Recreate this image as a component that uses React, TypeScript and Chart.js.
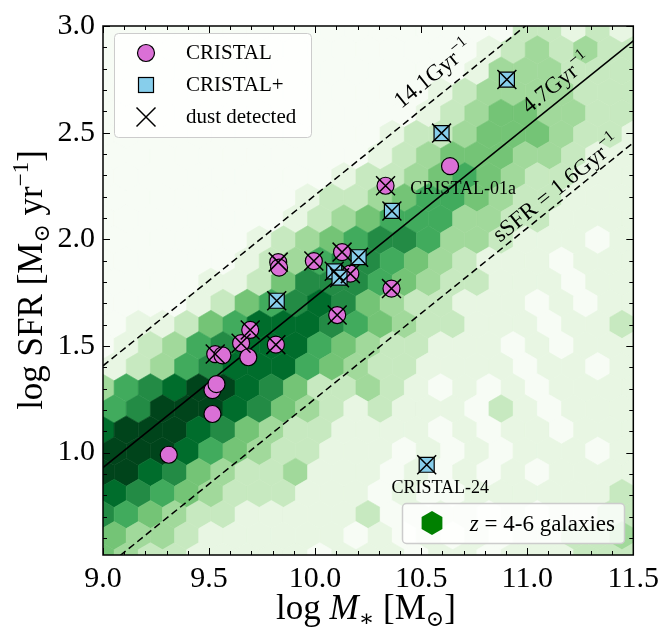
import React, { useEffect, useRef } from "react";
import { Chart, registerables } from "chart.js";
Chart.register(...registerables);

// ---------- axes ----------
const X_MIN = 9.0;
const X_MAX = 11.5;
const Y_MIN = 0.52;
const Y_MAX = 3.0;
const X_TICKS = [9.0, 9.5, 10.0, 10.5, 11.0, 11.5];
const Y_TICKS = [1.0, 1.5, 2.0, 2.5, 3.0];
const MINOR_STEP = 0.1;

// ---------- data ----------
const cristalMass = [9.31, 9.516, 9.516, 9.535, 9.529, 9.563, 9.651, 9.685, 9.694, 9.815, 10.104, 9.826, 9.83, 9.994, 10.127, 10.166, 10.36, 10.332, 10.636];
const cristalSFR = [0.99, 1.181, 1.293, 1.321, 1.462, 1.456, 1.513, 1.447, 1.575, 1.506, 1.645, 1.893, 1.867, 1.898, 1.94, 1.839, 1.769, 2.251, 2.343];
const cristalPlusMass = [9.819, 10.09, 10.115, 10.205, 10.362, 10.596, 10.904, 10.526];
const cristalPlusSFR = [1.712, 1.85, 1.82, 1.916, 2.133, 2.498, 2.749, 0.943];
const dustMass = [9.529, 9.651, 9.694, 9.815, 10.104, 9.826, 9.994, 10.127, 10.166, 10.36, 10.332, 9.819, 10.09, 10.115, 10.205, 10.362, 10.596, 10.904, 10.526];
const dustSFR = [1.462, 1.513, 1.575, 1.506, 1.645, 1.893, 1.898, 1.94, 1.839, 1.769, 2.251, 1.712, 1.85, 1.82, 1.916, 2.133, 2.498, 2.749, 0.943];

// main-sequence relation and sSFR offsets (log 3)
const MS_PIVOT = 9.0;
const MS_AT_PIVOT = 0.93;
const MS_SLOPE = 0.8;
const SSFR_OFFSET = 0.477;
const LINE_MASS = [9.0, 11.5];

// hexbin background (z = 4-6 galaxies): colour level per hexagon, rows top -> bottom
const HEX_TOP_Y = 2.987;
const HEX_ROW_STEP = 0.099;
const HEX_DX = 0.114;
const HEX_X_EVEN = 9.0525;
const HEX_X_ODD = 8.9955;
const HEX_LEVELS = [
  "0000000000000000022121",
  "00000000000000001232322",
  "0000000000000001333222",
  "00000000000000123333222",
  "0000000000000123443322",
  "00000000000012234443221",
  "0000000000012344433211",
  "00000000001223454322111",
  "0000000012234554322111",
  "00000000123455533221111",
  "0000001234566533211101",
  "00000012356654321110111",
  "0000112466654322111011",
  "00001245676432211101011",
  "0112457776543221110112",
  "01235677754322111010111",
  "1235677754322111101101",
  "35678876422321010101111",
  "5688876432121110210111",
  "78887643221111010110111",
  "8887543221110101011101",
  "88764322311101010101111",
  "7654322211101001111112",
  "65432211111201110101122",
  "4332111111010101011223",
  "43221111101110110111222",
];
const GREENS = ["#f7fcf5", "#e8f6e3", "#c7e9c0", "#a1d99b", "#74c476", "#41ab5d", "#238b45", "#006d2c", "#00441b"];

const FONT = '"Liberation Serif", "DejaVu Serif", serif';
const PINK = "#da70d6";
const SKY = "#87ceeb";

type Seg = { t: string; size: number; italic?: boolean; dy?: number };

function fontOf(s: Seg) {
  return `${s.italic ? "italic " : ""}${s.size}px ${FONT}`;
}

function drawRich(ctx: CanvasRenderingContext2D, segs: Seg[], x: number, y: number, align: "left" | "center" | "right") {
  let total = 0;
  const widths = segs.map((s) => {
    ctx.font = fontOf(s);
    const w = ctx.measureText(s.t).width;
    total += w;
    return w;
  });
  let cx = align === "left" ? x : align === "center" ? x - total / 2 : x - total;
  ctx.textAlign = "left";
  ctx.textBaseline = "alphabetic";
  segs.forEach((s, i) => {
    ctx.font = fontOf(s);
    ctx.fillText(s.t, cx, y + (s.dy || 0));
    cx += widths[i];
  });
}

const msLine = (m: number, off: number) => MS_AT_PIVOT + off + MS_SLOPE * (m - MS_PIVOT);

const lineLabels = [
  { segs: [{ t: "14.1Gyr", size: 23 }, { t: "−1", size: 16, dy: -10 }], x: 10.553, y: 2.777 },
  { segs: [{ t: "4.7Gyr", size: 23 }, { t: "−1", size: 16, dy: -10 }], x: 11.134, y: 2.735 },
  { segs: [{ t: "sSFR = 1.6Gyr", size: 23 }, { t: "−1", size: 16, dy: -10 }], x: 11.134, y: 2.242 },
];
const pointLabels = [
  { text: "CRISTAL-01a", x: 10.449, y: 2.233, align: "left" as const },
  { text: "CRISTAL-24", x: 10.59, y: 0.833, align: "center" as const },
];

const hexPlugin = {
  id: "hexbin",
  beforeDatasetsDraw(chart: any) {
    const ctx: CanvasRenderingContext2D = chart.ctx;
    const xs = chart.scales.x;
    const ys = chart.scales.y;
    const { left, right, top, bottom } = chart.chartArea;
    ctx.save();
    ctx.beginPath();
    ctx.rect(left, top, right - left, bottom - top);
    ctx.clip();
    ctx.fillStyle = GREENS[0];
    ctx.fillRect(left, top, right - left, bottom - top);
    const hx = HEX_DX / 2;
    const hy1 = (HEX_ROW_STEP * 2) / 6;
    const hy2 = (HEX_ROW_STEP * 2) / 3;
    HEX_LEVELS.forEach((row, r) => {
      const cy = HEX_TOP_Y - r * HEX_ROW_STEP;
      const x0 = r % 2 === 0 ? HEX_X_EVEN : HEX_X_ODD;
      for (let i = 0; i < row.length; i++) {
        const lvl = Number(row[i]);
        const cx = x0 + i * HEX_DX;
        const pts = [
          [cx + hx, cy - hy1],
          [cx + hx, cy + hy1],
          [cx, cy + hy2],
          [cx - hx, cy + hy1],
          [cx - hx, cy - hy1],
          [cx, cy - hy2],
        ];
        ctx.beginPath();
        pts.forEach(([px, py], k) => {
          const X = xs.getPixelForValue(px);
          const Y = ys.getPixelForValue(py);
          if (k === 0) ctx.moveTo(X, Y);
          else ctx.lineTo(X, Y);
        });
        ctx.closePath();
        ctx.fillStyle = GREENS[lvl];
        ctx.strokeStyle = GREENS[lvl];
        ctx.lineWidth = 0.6;
        ctx.fill();
        ctx.stroke();
      }
    });
    ctx.restore();
  },
};

function drawCircle(ctx: CanvasRenderingContext2D, x: number, y: number) {
  ctx.beginPath();
  ctx.arc(x, y, 8.5, 0, Math.PI * 2);
  ctx.fillStyle = PINK;
  ctx.fill();
  ctx.lineWidth = 1.2;
  ctx.strokeStyle = "#000";
  ctx.stroke();
}
function drawSquare(ctx: CanvasRenderingContext2D, x: number, y: number) {
  ctx.fillStyle = SKY;
  ctx.fillRect(x - 7.5, y - 7.5, 15, 15);
  ctx.lineWidth = 1.2;
  ctx.strokeStyle = "#000";
  ctx.strokeRect(x - 7.5, y - 7.5, 15, 15);
}
function drawX(ctx: CanvasRenderingContext2D, x: number, y: number) {
  ctx.beginPath();
  ctx.moveTo(x - 9.5, y - 9.5);
  ctx.lineTo(x + 9.5, y + 9.5);
  ctx.moveTo(x + 9.5, y - 9.5);
  ctx.lineTo(x - 9.5, y + 9.5);
  ctx.lineWidth = 1.5;
  ctx.strokeStyle = "#000";
  ctx.stroke();
}

const overlayPlugin = {
  id: "overlay",
  afterDraw(chart: any) {
    const ctx: CanvasRenderingContext2D = chart.ctx;
    const xs = chart.scales.x;
    const ys = chart.scales.y;
    const { left, right, top, bottom } = chart.chartArea;
    ctx.save();
    ctx.fillStyle = "#000";

    // rotated line labels
    const p1x = xs.getPixelForValue(LINE_MASS[0]);
    const p1y = ys.getPixelForValue(msLine(LINE_MASS[0], 0));
    const p2x = xs.getPixelForValue(LINE_MASS[1]);
    const p2y = ys.getPixelForValue(msLine(LINE_MASS[1], 0));
    const ang = Math.atan2(p2y - p1y, p2x - p1x);
    lineLabels.forEach((l) => {
      ctx.save();
      ctx.translate(xs.getPixelForValue(l.x), ys.getPixelForValue(l.y));
      ctx.rotate(ang);
      ctx.fillStyle = "#000";
      drawRich(ctx, l.segs, 0, 8, "center");
      ctx.restore();
    });

    // point labels
    pointLabels.forEach((p) => {
      ctx.font = `18px ${FONT}`;
      ctx.fillStyle = "#000";
      ctx.textAlign = p.align;
      ctx.textBaseline = "middle";
      ctx.fillText(p.text, xs.getPixelForValue(p.x), ys.getPixelForValue(p.y));
    });

    // frame
    ctx.strokeStyle = "#000";
    ctx.lineWidth = 1.5;
    ctx.strokeRect(left, top, right - left, bottom - top);

    // inward ticks
    ctx.lineWidth = 1;
    const isMajor = (v: number, arr: number[]) => arr.some((t) => Math.abs(t - v) < 1e-6);
    for (let k = 0; X_MIN + k * MINOR_STEP <= X_MAX + 1e-9; k++) {
      const v = X_MIN + k * MINOR_STEP;
      const len = isMajor(v, X_TICKS) ? 7 : 4;
      const px = Math.round(xs.getPixelForValue(v)) + 0.5;
      ctx.beginPath();
      ctx.moveTo(px, bottom);
      ctx.lineTo(px, bottom - len);
      ctx.moveTo(px, top);
      ctx.lineTo(px, top + len);
      ctx.stroke();
    }
    const y0 = Math.ceil(Y_MIN / MINOR_STEP - 1e-9) * MINOR_STEP;
    for (let k = 0; y0 + k * MINOR_STEP <= Y_MAX + 1e-9; k++) {
      const v = y0 + k * MINOR_STEP;
      const len = isMajor(v, Y_TICKS) ? 7 : 4;
      const py = Math.round(ys.getPixelForValue(v)) + 0.5;
      ctx.beginPath();
      ctx.moveTo(left, py);
      ctx.lineTo(left + len, py);
      ctx.moveTo(right, py);
      ctx.lineTo(right - len, py);
      ctx.stroke();
    }

    // axis titles
    ctx.fillStyle = "#000";
    drawRich(
      ctx,
      [
        { t: "log ", size: 35 },
        { t: "M", size: 35, italic: true },
        { t: "∗", size: 23, dy: 7 },
        { t: " [M", size: 35 },
        { t: "⊙", size: 22, dy: 7 },
        { t: "]", size: 35 },
      ],
      366,
      619,
      "center"
    );
    ctx.save();
    ctx.translate(42, 280);
    ctx.rotate(-Math.PI / 2);
    drawRich(
      ctx,
      [
        { t: "log SFR [M", size: 35 },
        { t: "⊙", size: 22, dy: 7 },
        { t: " yr", size: 35 },
        { t: "−1", size: 23, dy: -14 },
        { t: "]", size: 35 },
      ],
      0,
      0,
      "center"
    );
    ctx.restore();

    // legend 1
    ctx.beginPath();
    (ctx as any).roundRect(114.5, 33.5, 197, 104, 4);
    ctx.fillStyle = "rgba(255,255,255,0.8)";
    ctx.fill();
    ctx.strokeStyle = "#cccccc";
    ctx.lineWidth = 1;
    ctx.stroke();
    drawCircle(ctx, 146, 53);
    drawSquare(ctx, 146, 85);
    drawX(ctx, 146, 117);
    ctx.fillStyle = "#000";
    ctx.font = `21px ${FONT}`;
    ctx.textAlign = "left";
    ctx.textBaseline = "middle";
    ctx.fillText("CRISTAL", 186, 53);
    ctx.fillText("CRISTAL+", 186, 85);
    ctx.fillText("dust detected", 186, 117);

    // legend 2
    ctx.beginPath();
    (ctx as any).roundRect(402.5, 503.5, 222, 40, 4);
    ctx.fillStyle = "rgba(255,255,255,0.8)";
    ctx.fill();
    ctx.strokeStyle = "#cccccc";
    ctx.stroke();
    ctx.beginPath();
    for (let k = 0; k < 6; k++) {
      const a = Math.PI / 2 + (k * Math.PI) / 3;
      const hxp = 432 + 12 * Math.cos(a);
      const hyp = 523 + 12 * Math.sin(a);
      if (k === 0) ctx.moveTo(hxp, hyp);
      else ctx.lineTo(hxp, hyp);
    }
    ctx.closePath();
    ctx.fillStyle = "#008000";
    ctx.fill();
    ctx.fillStyle = "#000";
    drawRich(
      ctx,
      [
        { t: "z", size: 23, italic: true },
        { t: " = 4-6 galaxies", size: 23 },
      ],
      615,
      531,
      "right"
    );
    ctx.restore();
  },
};

export default function App() {
  const ref = useRef<HTMLCanvasElement>(null);
  useEffect(() => {
    const canvas = ref.current!;
    const lineData = (off: number) => LINE_MASS.map((m) => ({ x: m, y: msLine(m, off) }));
    const chart = new Chart(canvas, {
      type: "scatter",
      data: {
        datasets: [
          {
            type: "line",
            label: "4.7",
            data: lineData(0),
            borderColor: "#000",
            borderWidth: 1.5,
            pointRadius: 0,
            order: 10,
          } as any,
          {
            type: "line",
            label: "14.1",
            data: lineData(SSFR_OFFSET),
            borderColor: "#000",
            borderWidth: 1.5,
            borderDash: [7, 4],
            pointRadius: 0,
            order: 11,
          } as any,
          {
            type: "line",
            label: "1.6",
            data: lineData(-SSFR_OFFSET),
            borderColor: "#000",
            borderWidth: 1.5,
            borderDash: [7, 4],
            pointRadius: 0,
            order: 12,
          } as any,
          {
            label: "CRISTAL",
            data: cristalMass.map((m, i) => ({ x: m, y: cristalSFR[i] })),
            pointStyle: "circle",
            pointRadius: 8.5,
            backgroundColor: PINK,
            borderColor: "#000",
            borderWidth: 1.2,
            order: 3,
          },
          {
            label: "CRISTAL+",
            data: cristalPlusMass.map((m, i) => ({ x: m, y: cristalPlusSFR[i] })),
            pointStyle: "rect",
            pointRadius: 10.6,
            backgroundColor: SKY,
            borderColor: "#000",
            borderWidth: 1.2,
            order: 2,
          },
          {
            label: "dust detected",
            data: dustMass.map((m, i) => ({ x: m, y: dustSFR[i] })),
            pointStyle: "crossRot",
            pointRadius: 13.4,
            backgroundColor: "#000",
            borderColor: "#000",
            borderWidth: 1.5,
            order: 1,
          },
        ],
      },
      options: {
        responsive: false,
        animation: false,
        devicePixelRatio: 1,
        layout: { padding: { left: 0, right: 29, top: 22, bottom: 0 } },
        plugins: { legend: { display: false }, tooltip: { enabled: false } },
        scales: {
          x: {
            type: "linear",
            min: X_MIN,
            max: X_MAX,
            grid: { display: false, drawTicks: false },
            border: { display: false },
            afterBuildTicks: (s: any) => {
              s.ticks = X_TICKS.map((v) => ({ value: v }));
            },
            afterFit: (s: any) => {
              s.height = 79;
            },
            ticks: {
              font: { family: FONT, size: 30 },
              color: "#000",
              padding: 6,
              maxRotation: 0,
              autoSkip: false,
              callback: (v: any) => Number(v).toFixed(1),
            },
          },
          y: {
            type: "linear",
            min: Y_MIN,
            max: Y_MAX,
            grid: { display: false, drawTicks: false },
            border: { display: false },
            afterBuildTicks: (s: any) => {
              s.ticks = Y_TICKS.map((v) => ({ value: v }));
            },
            afterFit: (s: any) => {
              s.width = 103;
            },
            ticks: {
              font: { family: FONT, size: 30 },
              color: "#000",
              padding: 8,
              autoSkip: false,
              callback: (v: any) => Number(v).toFixed(1),
            },
          },
        },
      },
      plugins: [hexPlugin, overlayPlugin],
    } as any);
    return () => chart.destroy();
  }, []);
  return (
    <div style={{ position: "absolute", left: 0, top: 0, width: 665, height: 634 }}>
      <canvas ref={ref} width={665} height={634} style={{ width: 665, height: 634, display: "block" }} />
    </div>
  );
}
